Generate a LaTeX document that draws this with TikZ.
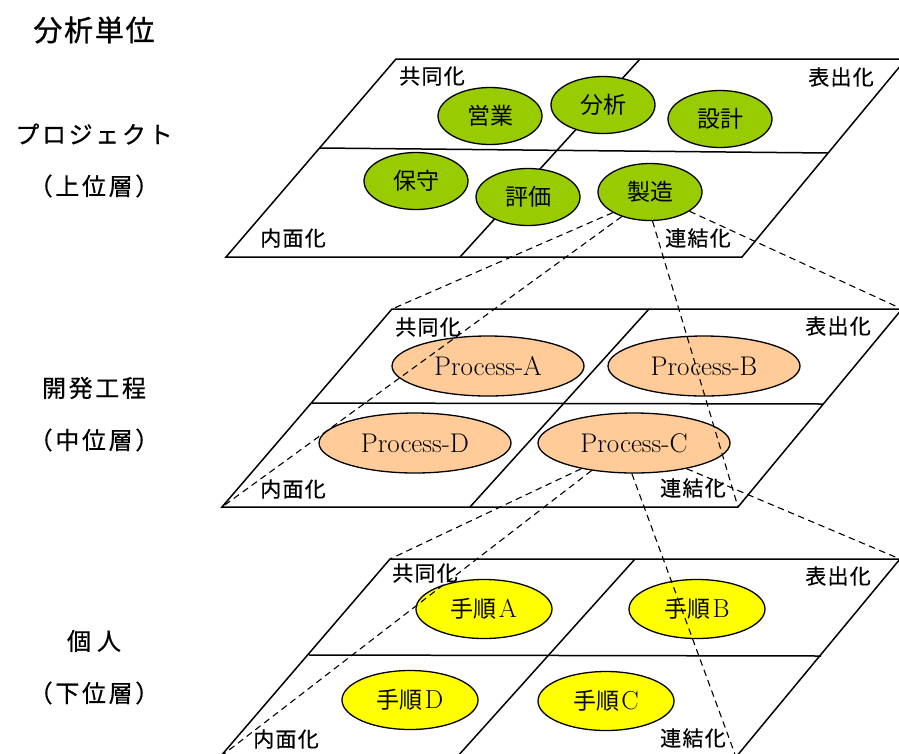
\documentclass[tikz,border=0pt]{standalone}
\usepackage{fontspec}
\usetikzlibrary{shapes.geometric}
\newfontfamily\jp{Noto Sans CJK JP}
\newfontfamily\jpls[LetterSpace=11,FakeBold=0.6]{Noto Sans CJK JP}
\newfontfamily\jpt[LetterSpace=6,FakeBold=1]{Noto Sans CJK JP}
\newfontfamily\jpq[LetterSpace=6,FakeBold=0.5]{Noto Sans CJK JP}
\definecolor{pgreen}{HTML}{99CC00}
\definecolor{ppeach}{HTML}{FFCC99}
\definecolor{pyellow}{HTML}{FFFF00}
\tikzset{
  plane/.style={draw=black, line width=1.5pt, line join=miter},
  oval/.style={ellipse, draw=black, line width=1.3pt, inner sep=0pt},
  topoval/.style={oval, fill=pgreen, minimum width=104pt, minimum height=57pt, font=\jp\fontsize{23}{23}\selectfont},
  midoval/.style={oval, fill=ppeach, minimum width=192pt, minimum height=60pt, font=\fontsize{27}{27}\selectfont},
  lowoval/.style={oval, fill=pyellow, minimum width=136pt, minimum height=59pt, font=\fontsize{26}{26}\selectfont},
  quad/.style={font=\jpq\fontsize{21}{21}\selectfont, inner sep=0pt},
  layertext/.style={font=\jpls\fontsize{24}{24}\selectfont, inner sep=0pt},
  zoomline/.style={draw=black, line width=1.1pt, dash pattern=on 6.5pt off 4.5pt},
}
\newcommand{\tejun}[1]{{\jp\fontsize{23}{23}\selectfont 手順}\hspace{2pt}#1}
\begin{document}
\begin{tikzpicture}[x=1pt, y=-1pt]
\useasboundingbox (0,0) rectangle (899,753);
\clip (0,0) rectangle (899,753);

% ---------- left column ----------
\node[inner sep=0pt, font=\jpt\fontsize{29}{29}\selectfont] (title) at (94,30) {分析単位};
\node[layertext] (l1a) at (94,134) {プロジェクト};
\node[layertext] (l1b) at (94,186) {（上位層）};
\node[layertext] (l2a) at (94,388) {開発工程};
\node[layertext] (l2b) at (94,440) {（中位層）};
\node[layertext] (l3a) at (94,641) {個\hspace{6pt}人};
\node[layertext] (l3b) at (94,693) {（下位層）};

% ---------- top plane ----------
\coordinate (tTL) at (396,59);
\coordinate (tTR) at (906,59);
\coordinate (tBR) at (742,257);
\coordinate (tBL) at (226,257);
\draw[plane] (tTL) -- (tTR) -- (tBR) -- (tBL) -- cycle;
\draw[plane] (320,148) -- (828,153);
\draw[plane] (640,59) -- (460,257);
\node[quad] (t1) at (432,76) {共同化};
\node[quad] (t2) at (841,77) {表出化};
\node[quad] (t3) at (293,238) {内面化};
\node[quad] (t4) at (698,238) {連結化};

% ---------- middle plane ----------
\coordinate (mTL) at (392,309);
\coordinate (mTR) at (902,309);
\coordinate (mBR) at (738,507);
\coordinate (mBL) at (222,507);
\draw[plane] (mTL) -- (mTR) -- (mBR) -- (mBL) -- cycle;
\draw[plane] (312,403) -- (823,404);
\draw[plane] (649,309) -- (470,507);
\node[quad] (m1) at (428,327) {共同化};
\node[quad] (m2) at (838,326) {表出化};
\node[quad] (m3) at (293,489) {内面化};
\node[quad] (m4) at (693,488) {連結化};

% ---------- bottom plane ----------
\coordinate (bTL) at (390,559);
\coordinate (bTR) at (900,559);
\coordinate (bBR) at (736,757);
\coordinate (bBL) at (220,757);
\draw[plane] (bTL) -- (bTR) -- (bBR) -- (bBL) -- cycle;
\draw[plane] (309,655) -- (821,656);
\draw[plane] (635,559) -- (457,757);
\node[quad] (b1) at (425,573) {共同化};
\node[quad] (b2) at (838,576) {表出化};
\node[quad] (b3) at (286,739) {内面化};
\node[quad] (b4) at (693,738) {連結化};

% ---------- top ellipses ----------
\node[topoval] (eig) at (490,116) {営業};
\node[topoval] (bun) at (603,105) {分析};
\node[topoval] (sek) at (720,119) {設計};
\node[topoval] (hos) at (416,181) {保守};
\node[topoval] (hyo) at (528,197) {評価};
\node[topoval] (zs)  at (650,192) {製造};

% ---------- middle ellipses ----------
\node[midoval] (pa) at (488,366) {Process-A};
\node[midoval] (pb) at (704,366) {Process-B};
\node[midoval] (pd) at (415,443) {Process-D};
\node[midoval] (pc) at (634,443) {Process-C};

% ---------- bottom ellipses ----------
\node[lowoval] (sa) at (484,609) {\tejun{A}};
\node[lowoval] (sb) at (697,609) {\tejun{B}};
\node[lowoval] (sd) at (410,700) {\tejun{D}};
\node[lowoval] (sc) at (606,701) {\tejun{C}};

% ---------- zoom connectors ----------
\draw[zoomline] (zs.209) -- (mTL);
\draw[zoomline] (zs.221) -- (mBL);
\draw[zoomline] (zs.275) -- (mBR);
\draw[zoomline] (zs.334) -- (mTR);
\draw[zoomline] (pc.206) -- (bTL);
\draw[zoomline] (pc.213) -- (bBL);
\draw[zoomline] (pc.266) -- (bBR);
\draw[zoomline] (pc.334) -- (bTR);
\end{tikzpicture}
\end{document}
